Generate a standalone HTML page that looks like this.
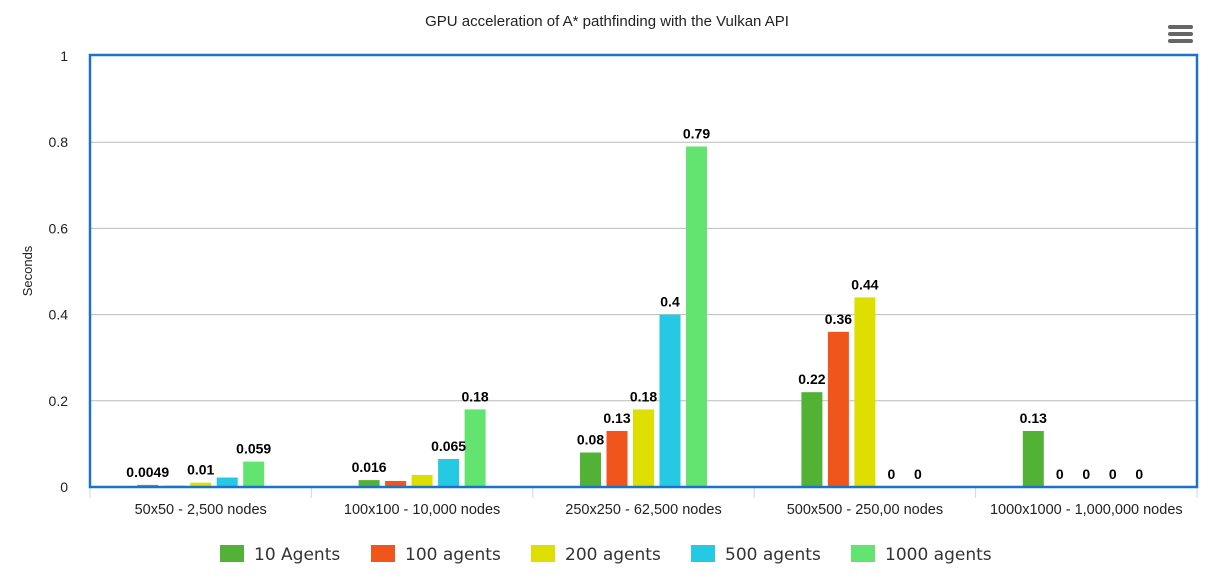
<!DOCTYPE html>
<html><head><meta charset="utf-8"><style>
html,body{margin:0;padding:0;background:#fff;}
svg{display:block;font-family:"Liberation Sans",Arial,sans-serif;}
</style></head><body>
<svg id="chart" width="1214" height="586" xmlns="http://www.w3.org/2000/svg">
<text x="607" y="26" text-anchor="middle" font-size="15" fill="#222">GPU acceleration of A* pathfinding with the Vulkan API</text>
<g fill="#666">
<rect x="1168" y="25" width="25" height="4" rx="2"/><rect x="1168" y="32" width="25" height="4" rx="2"/><rect x="1168" y="39" width="25" height="4" rx="2"/>
</g>
<text transform="translate(32,271) rotate(-90)" text-anchor="middle" font-size="13" fill="#222">Seconds</text>
<g id="grid"></g><g id="bars"></g><g id="labels"></g><g id="xaxis"></g><g id="legend"></g>
<rect x="90" y="55" width="1107" height="432" fill="none" stroke="#1a73c8" stroke-width="2.5"/>
</svg>
<script>
const categories=["50x50 - 2,500 nodes","100x100 - 10,000 nodes","250x250 - 62,500 nodes","500x500 - 250,00 nodes","1000x1000 - 1,000,000 nodes"];
const seriesNames=["10 Agents","100 agents","200 agents","500 agents","1000 agents"];
const s10=[0.0049,0.016,0.08,0.22,0.13];
const s100=[0.003,0.014,0.13,0.36,0];
const s200=[0.01,0.028,0.18,0.44,0];
const s500=[0.022,0.065,0.4,0,0];
const s1000=[0.059,0.18,0.79,0,0];
const yTicks=[0,0.2,0.4,0.6,0.8,1];
const yTickLabels=["0","0.2","0.4","0.6","0.8","1"];
const series=[s10,s100,s200,s500,s1000];
const colors=["#52b236","#f0561c","#dede00","#26c9e3","#63e36f"];
const NS="http://www.w3.org/2000/svg";
const X0=90,X1=1197,Y0=487,Y1=56;
const gw=(X1-X0)/categories.length;
const y=v=>Y0-(Y0-Y1)*v;
const gc=i=>X0+gw*(i+0.5);
const bx=(i,s)=>gc(i)+(s-2)*26.5;
function mk(tag,attrs,parent){const e=document.createElementNS(NS,tag);for(const k in attrs)e.setAttribute(k,attrs[k]);parent.appendChild(e);return e;}
const grid=document.getElementById('grid');
yTicks.forEach((t,i)=>{
 if(t>0&&t<1){const l=mk('line',{x1:X0,x2:X1,y1:y(t),y2:y(t),stroke:'#bbb','stroke-width':1},grid);
 
 }
 const tx=mk('text',{x:68,y:y(t)+5,'text-anchor':'end','font-size':14,fill:'#222'},grid);
 tx.textContent=yTickLabels[i];
 
 
});
const bars=document.getElementById('bars'),labels=document.getElementById('labels');
const cands=[];
categories.forEach((c,i)=>{
 series.forEach((s,k)=>{
  const v=s[i],cx=bx(i,k),top=y(v);
  const r=mk('rect',{x:cx-10.5,y:top,width:21,height:Y0-top,fill:colors[k]},bars);
  
  
  cands.push({v:v,cx:cx,top:top});
 });
});
cands.sort((a,b)=>b.v-a.v);
const shown=[];
cands.forEach(o=>{
  const str=String(o.v);
  const w=str.length*8.2;
  const box={l:o.cx-w/2,r:o.cx+w/2,t:o.top-25,b:o.top-5};
  const hit=shown.some(p=>box.l<p.r+1&&box.r>p.l-1&&box.t<p.b&&box.b>p.t);
  if(!hit){
   const t=mk('text',{x:o.cx,y:o.top-8,'text-anchor':'middle','font-size':14,'font-weight':'bold',fill:'#000'},labels);
   t.textContent=str;
   
   
   shown.push(box);
  }
});
const xa=document.getElementById('xaxis');
for(let i=0;i<=categories.length;i++){const x=X0+gw*i;const l=mk('line',{x1:x,x2:x,y1:488,y2:498,stroke:'#ccd6eb','stroke-width':1},xa);
 
 }
categories.forEach((c,i)=>{const t=mk('text',{x:gc(i),y:514,'text-anchor':'middle','font-size':14.5,fill:'#222'},xa);t.textContent=c;
 
 });
const lg=document.getElementById('legend');
const lx=[220,371,531,691,851];
seriesNames.forEach((n,k)=>{
 const g=mk('g',{},lg);
 
 
 mk('rect',{x:lx[k],y:545,width:24,height:17,fill:colors[k]},g);
 const t=mk('text',{x:lx[k]+34,y:560,'font-size':17,fill:'#333','font-family':'"DejaVu Sans",sans-serif'},g);
 t.textContent=n;
});
</script>
</body></html>
